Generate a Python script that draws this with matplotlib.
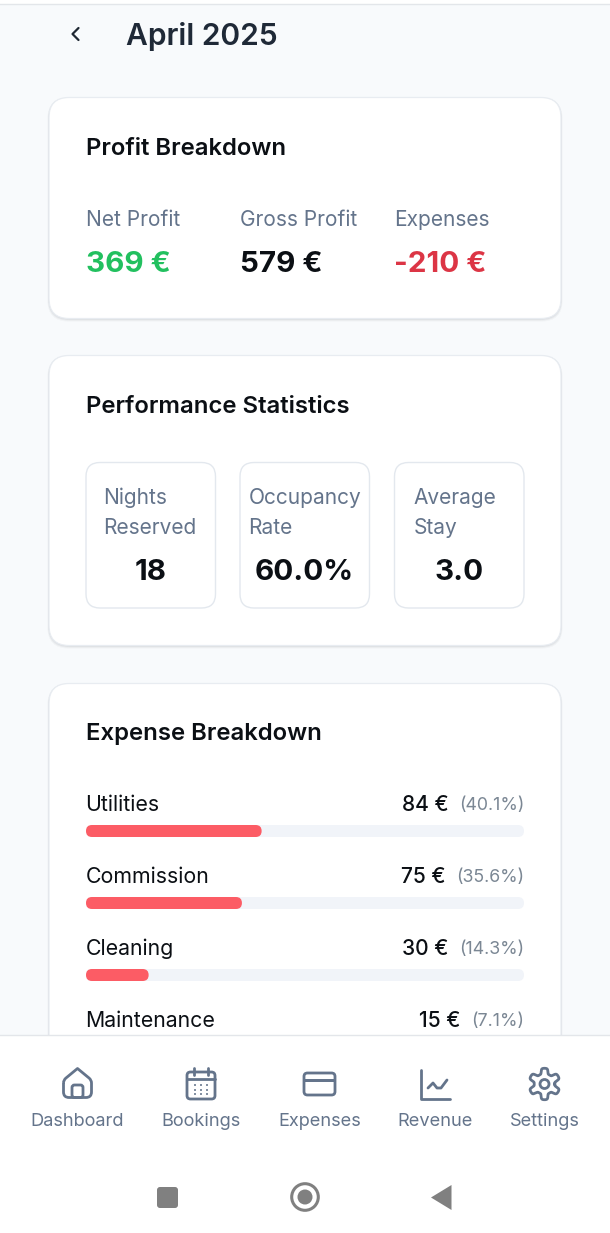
import numpy as np
import matplotlib
matplotlib.use("Agg")
import matplotlib.pyplot as plt
from matplotlib.patches import FancyBboxPatch, Circle, Polygon, Rectangle
from matplotlib.path import Path
from matplotlib.patches import PathPatch

plt.rcParams['font.family'] = ['Inter', 'DejaVu Sans']

# ---- data ----
title = "April 2025"
profit_labels = ["Net Profit", "Gross Profit", "Expenses"]
profit_values = ["369 €", "579 €", "-210 €"]
profit_colors = ["#22c05f", "#0b0f14", "#dc3545"]
stat_labels = [["Nights", "Reserved"], ["Occupancy", "Rate"], ["Average", "Stay"]]
stat_label_x = [103.5, 248.5, 413.5]
stat_values = ["18", "60.0%", "3.0"]
expense_names = ["Utilities", "Commission", "Cleaning", "Maintenance"]
expense_amounts = [84, 75, 30, 15]
expense_pcts = [40.1, 35.6, 14.3, 7.1]
nav_labels = ["Dashboard", "Bookings", "Expenses", "Revenue", "Settings"]

W, H = 610, 1233
PT = 0.72  # px -> pt at dpi 100
BG = "#f8fafc"; GRAY = "#64748b"; INK = "#0b0f14"; BAR = "#fc5c65"; TRACK = "#f1f4f9"

fig = plt.figure(figsize=(W/100, H/100), dpi=100, facecolor=BG)
ax = fig.add_axes([0, 0, 1, 1])
ax.set_xlim(0, W); ax.set_ylim(H, 0); ax.axis('off')


def rbox(x0, y0, x1, y1, r, fc, ec='none', lw=0, z=1, target=None):
    p = FancyBboxPatch((x0, y0), x1-x0, y1-y0, boxstyle=f"round,pad=0,rounding_size={r}",
                       fc=fc, ec=ec, lw=lw, zorder=z)
    (target or ax).add_patch(p)
    return p


def txt(x, y, s, px, color=INK, weight=400, ha='left', z=5, target=None):
    return (target or ax).text(x, y, s, fontsize=px*PT, color=color, fontweight=weight,
                               ha=ha, va='center_baseline', zorder=z)


# top strip
ax.add_patch(Rectangle((0, 0), W, 4, fc='white', ec='none', zorder=1))
ax.plot([0, W], [4, 4], color='#e3e6ea', lw=1, zorder=1)

# header
ax.plot([78.5, 72.5, 78.5], [28, 34, 40], color='#1e2732', lw=1.6, solid_capstyle='round',
        solid_joinstyle='round', zorder=5)
txt(126.5, 33.5, title, 30, color='#1f2937', weight=600)


# cards
def card(y0, y1):
    for d, a in ((3.0, 0.03), (2.0, 0.05), (1.0, 0.07)):
        p = rbox(49-d/2, y0, 561+d/2, y1+d, 21, '#1e293b', z=1)
        p.set_alpha(a)
    rbox(49, y0, 561, y1, 20, 'white', ec='#e8ecf1', lw=0.9, z=2)


card(97.5, 318.5)
card(355.5, 645.5)
card(683.5, 1100)

txt(85.5, 146.5, "Profit Breakdown", 23.9, weight=600)
txt(85.5, 404.5, "Performance Statistics", 23.9, weight=600)
txt(85.5, 731.5, "Expense Breakdown", 23.9, weight=600)

# profit
for x, l, v, c in zip([85.5, 239.5, 394], profit_labels, profit_values, profit_colors):
    txt(x, 218.5, l, 20.9, color=GRAY)
    txt(x, 261, v, 29.6, color=c, weight=700)

# stats
for x0, x1, lx, ls, v in zip([86, 240, 394.5], [215.5, 369.5, 524], stat_label_x, stat_labels, stat_values):
    rbox(x0, 462.5, x1, 608, 14, 'white', ec='#e3e8ee', lw=1, z=3)
    cx = (x0+x1)/2
    txt(lx, 496, ls[0], 20.9, color=GRAY)
    txt(lx, 526.5, ls[1], 20.9, color=GRAY)
    txt(cx, 569, v, 29.6, weight=700, ha='center')

# expense rows: bars on their own 0-100 axes
row_h = 72.0
n = len(expense_names)
top = 794.5
bx = fig.add_axes([86/W, 1-(top+row_h*n)/H, 438/W, row_h*n/H], zorder=2)
bx.set_xlim(0, 100); bx.set_ylim(n, 0); bx.axis('off'); bx.patch.set_alpha(0)
bar_h = 12/row_h
aspect = (1/row_h)/(100/438)
ypos = [(i + (36.5/row_h)) for i in range(n)]
rsize = 6*(100/438)
for i, p_ in enumerate(expense_pcts):
    for val, col in ((100, TRACK), (p_, BAR)):
        bx.add_patch(FancyBboxPatch((0, ypos[i]-bar_h/2), val, bar_h,
                                    boxstyle=f"round,pad=0,rounding_size={rsize}",
                                    mutation_aspect=aspect, fc=col, ec='none'))

fig.canvas.draw()
rend = fig.canvas.get_renderer()
for i, (nm, am, pc) in enumerate(zip(expense_names, expense_amounts, expense_pcts)):
    y = 803 + i*row_h
    txt(85.5, y, nm, 21.3, color=INK, weight=400)
    t = txt(524.5, y, f"({pc}%)", 17.8, color='#7b8794', ha='right')
    x0 = ax.transData.inverted().transform(t.get_window_extent(rend))[0][0]
    txt(x0-11, y, f"{am} €", 21.0, color=INK, weight=500, ha='right')

# bottom nav (covers the bars too)
nx = fig.add_axes([0, 0, 1, 1], zorder=5)
nx.set_xlim(0, W); nx.set_ylim(H, 0); nx.axis('off'); nx.patch.set_alpha(0)
nx.add_patch(Rectangle((0, 1035), W, H-1035, fc='white', ec='none', zorder=1))
nx.plot([0, W], [1035, 1035], color='#e3e6ea', lw=1, zorder=2)

for x, l in zip([77, 201, 319.5, 435, 544.5], nav_labels):
    txt(x, 1120, l, 18.2, color=GRAY, ha='center', target=nx)

IC = '#64748b'; LW = 2.0
kw = dict(color=IC, lw=LW, solid_capstyle='round', solid_joinstyle='round', zorder=3)
# home: rounded house outline
verts = [(63.5, 1083), (63.5, 1080), (66, 1078), (77.5, 1068.5), (89, 1078), (91.5, 1080), (91.5, 1083),
         (91.5, 1092), (91.5, 1097.5), (86, 1097.5), (69, 1097.5), (63.5, 1097.5), (63.5, 1092), (63.5, 1083)]
codes = [Path.MOVETO, Path.CURVE3, Path.CURVE3, Path.LINETO, Path.LINETO, Path.CURVE3, Path.CURVE3,
         Path.LINETO, Path.CURVE3, Path.CURVE3, Path.LINETO, Path.CURVE3, Path.CURVE3, Path.LINETO]
nx.add_patch(PathPatch(Path(verts, codes), fc='none', ec=IC, lw=LW, joinstyle='round', zorder=3))
nx.add_patch(FancyBboxPatch((72, 1085), 11, 12.5, boxstyle="round,pad=0,rounding_size=2.5",
                            fc='none', ec=IC, lw=LW, zorder=3))
# calendar
nx.add_patch(FancyBboxPatch((187, 1072), 28, 27, boxstyle="round,pad=0,rounding_size=3.5",
                            fc='none', ec=IC, lw=LW, zorder=3))
nx.plot([187, 215], [1079, 1079], **kw)
nx.plot([194, 194], [1068, 1075], **kw)
nx.plot([208, 208], [1068, 1075], **kw)
for dx in (195, 201, 207):
    for dy in (1085, 1090, 1094):
        nx.add_patch(Circle((dx, dy), 1.0, fc=IC, ec='none', zorder=3))
# credit card
nx.add_patch(FancyBboxPatch((304, 1073), 31, 22, boxstyle="round,pad=0,rounding_size=3.5",
                            fc='none', ec=IC, lw=LW, zorder=3))
nx.add_patch(Rectangle((304, 1079), 31, 3, fc=IC, ec='none', zorder=3))
# chart
nx.plot([421, 421, 449.5], [1069.5, 1098.5, 1098.5], **kw)
nx.plot([428, 433, 437, 441, 447], [1088, 1083, 1088, 1088, 1080], **kw)
# gear
th = np.linspace(0, 2*np.pi, 721)
rg = 13.0 + 2.8*np.tanh(2.2*np.cos(6*(th+np.pi/6)))
nx.plot(544.5+rg*np.cos(th), 1084+rg*np.sin(th), color=IC, lw=LW, solid_joinstyle='round', zorder=3)
nx.add_patch(Circle((544.5, 1084), 4.5, fc='none', ec=IC, lw=LW, zorder=3))

# system bar
SYS = '#808080'
nx.add_patch(FancyBboxPatch((157, 1187), 21, 21, boxstyle="round,pad=0,rounding_size=3", fc=SYS, ec='none', zorder=3))
nx.add_patch(Circle((305, 1197), 13.3, fc='none', ec=SYS, lw=2.2, zorder=3))
nx.add_patch(Circle((305, 1197), 7.5, fc=SYS, ec='none', zorder=3))
nx.add_patch(Polygon([(451.5, 1185), (451.5, 1210), (431, 1197.5)], closed=True, fc=SYS, ec='none', zorder=3))

fig.savefig("out.png", dpi=100, facecolor=BG)
